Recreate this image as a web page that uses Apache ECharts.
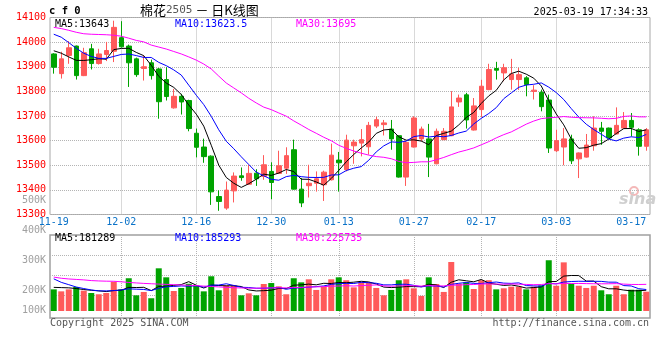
<!DOCTYPE html>
<html><head><meta charset="utf-8">
<script src="https://cdn.jsdelivr.net/npm/echarts@6/dist/echarts.min.js"></script>
<style>html,body{margin:0;padding:0;background:#fff}#c{width:660px;height:360px}</style>
</head><body><div id="c"></div>
<script>
// ---------- data ----------
const dates = ['11-19','11-20','11-21','11-22','11-25','11-26','11-27','11-28','11-29',
'12-02','12-03','12-04','12-05','12-06','12-09','12-10','12-11','12-12','12-13','12-16','12-17','12-18','12-19','12-20','12-23','12-24','12-25','12-26','12-27','12-30','12-31',
'01-02','01-03','01-06','01-07','01-08','01-09','01-10','01-13','01-14','01-15','01-16','01-17','01-20','01-21','01-22','01-23','01-24','01-27',
'02-05','02-06','02-07','02-10','02-11','02-12','02-13','02-14','02-17','02-18','02-19','02-20','02-21','02-24','02-25','02-26','02-27','02-28',
'03-03','03-04','03-05','03-06','03-07','03-10','03-11','03-12','03-13','03-14','03-17','03-18','03-19'];
const openP = [13952,13872,13946,13984,13864,13973,13913,13950,13963,14018,
13984,13932,13893,13916,13891,13848,13733,13780,13763,13630,
13574,13537,13373,13326,13396,13457,13423,13468,13455,13475,
13467,13488,13563,13403,13417,13427,13421,13441,13521,13482,
13579,13590,13575,13659,13665,13647,13620,13452,13574,13607,
13607,13506,13604,13620,13757,13786,13643,13726,13807,13893,
13875,13848,13848,13855,13800,13796,13765,13559,13574,13607,
13526,13533,13579,13651,13651,13627,13651,13682,13644,13577];
const closeP = [13898,13932,13977,13864,13957,13913,13952,13966,14060,13981,
13916,13868,13900,13864,13758,13779,13780,13757,13649,13573,
13535,13392,13353,13399,13456,13450,13467,13445,13502,13430,
13498,13539,13403,13347,13427,13445,13472,13541,13510,13602,
13594,13604,13662,13685,13672,13607,13452,13593,13692,13647,
13533,13638,13638,13737,13773,13684,13741,13821,13889,13886,
13896,13871,13868,13828,13805,13738,13570,13600,13607,13518,
13550,13582,13651,13638,13611,13662,13682,13654,13577,13644];
const lowP = [13872,13852,13912,13848,13862,13889,13909,13923,13919,13978,
13818,13859,13844,13848,13689,13763,13730,13706,13638,13532,
13510,13339,13315,13319,13349,13437,13421,13416,13441,13362,
13465,13465,13401,13330,13369,13393,13355,13438,13393,13475,
13506,13536,13543,13651,13621,13563,13450,13416,13572,13597,
13452,13504,13602,13618,13737,13649,13641,13695,13805,13848,
13841,13807,13806,13780,13767,13719,13550,13554,13500,13505,
13448,13531,13559,13583,13609,13625,13649,13617,13539,13559];
const highP = [13955,13961,14004,13986,13977,13993,13973,14001,14087,14085,
13990,13937,13946,13929,13895,13898,13810,13790,13766,13649,
13608,13540,13398,13434,13471,13491,13502,13484,13541,13512,
13559,13573,13604,13448,13502,13475,13478,13588,13554,13624,
13604,13647,13676,13697,13684,13684,13622,13600,13699,13657,
13668,13649,13651,13801,13787,13794,13773,13847,13912,13920,
13912,13932,13896,13862,13825,13807,13787,13644,13651,13624,
13552,13627,13699,13676,13653,13735,13716,13712,13650,13651];
const volumeK = [185,168,185,205,174,154,143,154,250,185,
280,134,163,109,365,288,171,197,233,214,
168,297,177,219,219,134,151,134,231,239,
211,143,280,245,271,180,208,271,288,263,
202,245,245,197,134,180,263,271,194,129,
288,231,163,419,233,245,188,263,263,185,
194,208,208,185,208,219,434,216,416,233,
216,197,216,177,143,216,143,182,182,165];
// moving-average values before the window is full
const ma5Head = [13965,13955,13940,13926];
const ma10Head = [14032,14020,13998,13975,13955,13942,13934,13934,13942];
const ma30Head = [14060,14055,14048,14040,14034,14032,14031,14030,14028,14024,14016,14007,14001,13988,13980,13972,13962,13952,13940,13927,13911,13891,13862,13834,13814,13794,13772,13753,13736];
const vma5HeadK = [202,200,198,192];
const vma10HeadK = [275,245,225,205,192,180,172,172,174];
const vma30HeadK = [290,280,274,270,266,260,257,255,254,250,244,240,236,233,230,228,225,222,220,217,213,210,206,202,199,197,195,195,196];
// tick labels and texts
const dateLabels = ['11-19','12-02','12-16','12-30','01-13','01-27','02-17','03-03','03-17'];
const gridDates = ['12-02','12-16','12-30','01-13','01-27','02-17','03-03'];
const volTickLabels = ['100K','200K','300K','400K','500K'];
const priceLegend = ['MA5:13643','MA10:13623.5','MA30:13695'];
const volLegend = ['MA5:181289','MA10:185293','MA30:225735'];
const maColors = ['#000000','#0000ff','#ff00ff'];

// ---------- build ----------
function movingAvg(vals, n, head) {
  return vals.map((v, i) => {
    if (i < n - 1) return head[i];
    let s = 0;
    for (let k = i - n + 1; k <= i; k++) s += vals[k];
    return +(s / n).toFixed(1);
  });
}
const volume = volumeK.map(v => v * 1000);
const ohlc = dates.map((d, i) => [openP[i], closeP[i], lowP[i], highP[i]]);
const ma5 = movingAvg(closeP, 5, ma5Head);
const ma10 = movingAvg(closeP, 10, ma10Head);
const ma30 = movingAvg(closeP, 30, ma30Head);
const vma5 = movingAvg(volume, 5, vma5HeadK.map(v => v * 1000));
const vma10 = movingAvg(volume, 10, vma10HeadK.map(v => v * 1000));
const vma30 = movingAvg(volume, 30, vma30HeadK.map(v => v * 1000));

const RED = '#ff5a5a', GREEN = '#00a300';
const MONO = '"DejaVu Sans Mono", monospace';
const gridLine = {color: '#b4b4b4', type: 'dotted', width: 1};

function lineSeries(data, color, xi, yi) {
  return {type: 'line', data: data, xAxisIndex: xi, yAxisIndex: yi, symbol: 'none', showSymbol: false,
    smooth: false, silent: true, lineStyle: {width: 1, color: color}, itemStyle: {color: color}};
}
function legendTexts(arr, y) {
  const xs = [55, 175, 296];
  return arr.map((t, i) => ({type: 'text', x: xs[i], y: y, z: 100,
    style: {text: t, fill: maColors[i], font: '10px ' + MONO, verticalAlign: 'middle', textVerticalAlign: 'middle'}}));
}

const chart = echarts.init(document.getElementById('c'), null, {renderer: 'canvas'});
const catAxisBase = {
  type: 'category', data: dates, boundaryGap: true,
  axisLine: {show: false}, axisTick: {show: false},
  splitLine: {show: true, interval: (i, v) => gridDates.indexOf(v) >= 0, alignWithLabel: true, lineStyle: gridLine}
};
chart.setOption({
  animation: false,
  backgroundColor: '#ffffff',
  grid: [
    {left: 50, width: 600, top: 17.5, height: 197, show: true, borderColor: '#a8a8a8', borderWidth: 1, outerBoundsMode: 'none'},
    {left: 50, width: 600, top: 235, height: 83, show: true, borderColor: '#a0a0a0', borderWidth: 1.5, outerBoundsMode: 'none'},
    {left: 50, width: 600, top: 200.7, height: 119.6, show: false, outerBoundsMode: 'none'}
  ],
  xAxis: [
    Object.assign({}, catAxisBase, {gridIndex: 0,
      axisLabel: {interval: (i, v) => dateLabels.indexOf(v) >= 0, color: '#0a72c8', fontFamily: MONO, fontSize: 10, margin: 3}}),
    Object.assign({}, catAxisBase, {gridIndex: 1, axisLabel: {show: false}}),
    {type: 'value', gridIndex: 2, min: 0, max: 1, show: false}
  ],
  yAxis: [
    {type: 'value', gridIndex: 0, min: 13300, max: 14100, interval: 100, scale: true,
      axisLine: {show: false}, axisTick: {show: false},
      axisLabel: {color: '#ff0000', fontFamily: MONO, fontSize: 10, margin: 4, formatter: v => String(v)},
      splitLine: {show: true, lineStyle: gridLine}},
    {type: 'value', gridIndex: 1, min: -60000, max: 650000,
      axisLine: {show: false}, axisTick: {show: false, customValues: [134000, 305000, 476000]},
      axisLabel: {show: false}, splitLine: {show: true, lineStyle: gridLine}},
    {type: 'value', gridIndex: 2, min: 100000, max: 500000, interval: 100000,
      axisLine: {show: false}, axisTick: {show: false}, splitLine: {show: false},
      axisLabel: {color: '#a0a0a0', fontFamily: MONO, fontSize: 10, margin: 4,
        formatter: v => {
          const t = volTickLabels[Math.round(v / 100000) - 1];
          return v === 100000 ? '{up|' + t + '}' : t;
        },
        rich: {up: {padding: [0, 0, 20, 0], color: '#a0a0a0', fontFamily: MONO, fontSize: 10}}}}
  ],
  series: [
    {type: 'candlestick', xAxisIndex: 0, yAxisIndex: 0, data: ohlc, barWidth: 5, silent: true,
      itemStyle: {color: RED, color0: GREEN, borderColor: RED, borderColor0: GREEN, borderWidth: 1}},
    lineSeries(ma5, maColors[0], 0, 0),
    lineSeries(ma10, maColors[1], 0, 0),
    lineSeries(ma30, maColors[2], 0, 0),
    {type: 'bar', xAxisIndex: 1, yAxisIndex: 1, barWidth: 6, silent: true,
      data: volume.map((v, i) => ({value: v, itemStyle: {color: closeP[i] >= openP[i] ? RED : GREEN}}))},
    lineSeries(vma5, maColors[0], 1, 1),
    lineSeries(vma10, maColors[1], 1, 1),
    lineSeries(vma30, maColors[2], 1, 1)
  ],
  graphic: [
    {type: 'text', x: 49, y: 11, style: {text: 'c f 0', fill: '#000', font: 'bold 10.5px ' + MONO, verticalAlign: 'middle', textVerticalAlign: 'middle'}},
    {type: 'text', x: 140, y: 10, style: {text: '棉花{g|2505} － 日K线图', fill: '#000',
      font: '13px "Noto Sans CJK SC"', verticalAlign: 'middle', textVerticalAlign: 'middle',
      rich: {g: {fill: '#555', fontFamily: MONO, fontSize: 11}}}},
    {type: 'text', x: 648, y: 12, style: {text: '2025-03-19 17:34:33', fill: '#000', font: '10px ' + MONO, align: 'right', textAlign: 'right', verticalAlign: 'middle', textVerticalAlign: 'middle'}},
    {type: 'text', x: 50, y: 323, style: {text: 'Copyright 2025 SINA.COM', fill: '#555', font: '10px ' + MONO, verticalAlign: 'middle', textVerticalAlign: 'middle'}},
    {type: 'text', x: 649, y: 323, style: {text: 'http://finance.sina.com.cn', fill: '#555', font: '10px ' + MONO, align: 'right', textAlign: 'right', verticalAlign: 'middle', textVerticalAlign: 'middle'}},
    {type: 'circle', shape: {cx: 634, cy: 191, r: 4}, style: {fill: 'none', stroke: '#f4b8b8', lineWidth: 2}},
    {type: 'text', x: 619, y: 200, style: {text: 'sina', fill: '#cfcfcf', font: 'italic bold 16px "DejaVu Sans"', verticalAlign: 'middle', textVerticalAlign: 'middle'}}
  ].concat(legendTexts(priceLegend, 24)).concat(legendTexts(volLegend, 238.5))
});
</script></body></html>
